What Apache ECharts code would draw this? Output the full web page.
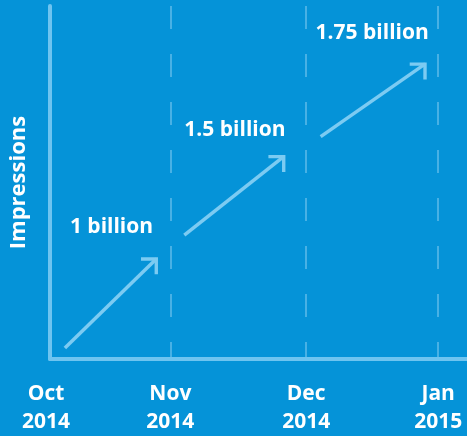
<!DOCTYPE html>
<html>
<head>
<meta charset="utf-8">
<script src="https://cdn.jsdelivr.net/npm/echarts@6/dist/echarts.min.js"></script>
<style>
html,body{margin:0;padding:0;background:#0593d8;}
#c{width:467px;height:436px;}
</style>
</head>
<body>
<div id="c"></div>
<script>
// Month positions along the time axis (as drawn), and their labels
const monthNames = ['Oct', 'Nov', 'Dec', 'Jan'];
const monthYears = ['2014', '2014', '2014', '2015'];
const monthPos = [0, 0.93, 1.98, 3];

// Growth arrows (x in months since Oct 2014, y = relative impressions index 0-100)
const arrowStartX = [0.115, 1.038, 2.092];
const arrowStartY = [3.1, 35.1, 63.0];
const arrowEndX = [0.823, 1.808, 2.9];
const arrowEndY = [28.4, 57.4, 83.6];
const arrowLabels = ['1 billion', '1.5 billion', '1.75 billion'];

const BG = '#0593d8';
const LIGHT = '#6ec4f0';
const ARROW = '#7ccbf2';
const FONT = '"Open Sans", sans-serif';
const labelOffsets = [[-45, -32], [-49, -26], [-53, -31]];
const chevron = 'path://M0,0 L100,0 L100,100 L80,100 L80,20 L0,20 Z';

const arrowSeries = arrowStartX.map(function (sx, i) {
  return {
    type: 'line',
    silent: true,
    data: [
      { value: [sx, arrowStartY[i]], symbol: 'none' },
      { value: [arrowEndX[i], arrowEndY[i]], symbol: chevron, symbolSize: 17, symbolOffset: [-7, 7] }
    ],
    lineStyle: { color: ARROW, width: 3.5, cap: 'butt' },
    itemStyle: { color: ARROW, borderWidth: 0 },
    showSymbol: true,
    animation: false
  };
});

const labelSeries = {
  type: 'scatter',
  silent: true,
  symbolSize: 1,
  itemStyle: { color: 'rgba(0,0,0,0)' },
  data: arrowEndX.map(function (x, i) {
    return {
      value: [x, arrowEndY[i]],
      label: {
        show: true,
        position: 'inside',
        offset: labelOffsets[i],
        formatter: arrowLabels[i],
        color: '#ffffff',
        textBorderWidth: 0,
        opacity: 1,
        fontFamily: FONT,
        fontWeight: 'bold',
        fontSize: 21
      }
    };
  }),
  animation: false
};

const labelText = { color: '#ffffff', fontFamily: FONT, fontWeight: 'bold', fontSize: 21, lineHeight: 28 };

const chart = echarts.init(document.getElementById('c'), null, { renderer: 'canvas' });
chart.setOption({
  backgroundColor: BG,
  animation: false,
  grid: { left: 48, right: 0, top: 6, bottom: 70, containLabel: false },
  xAxis: {
    type: 'value',
    min: 0,
    max: 3.223,
    axisLine: { show: true, onZero: false, lineStyle: { color: LIGHT, width: 4 } },
    axisTick: { show: false, customValues: monthPos },
    splitLine: {
      show: true,
      lineStyle: { color: '#5fbce9', width: 1.5, type: [23, 25] }
    },
    axisLabel: {
      show: true,
      customValues: monthPos,
      margin: 21,
      color: '#ffffff',
      fontFamily: FONT,
      fontWeight: 'bold',
      fontSize: 21,
      lineHeight: 28,
      rich: {
        first: Object.assign({ padding: [0, 8, 0, 0] }, labelText),
        m: labelText
      },
      formatter: function (v) {
        const i = monthPos.indexOf(v);
        if (i < 0) return '';
        const s = i === 0 ? 'first' : 'm';
        return '{' + s + '|' + monthNames[i] + '}\n{' + s + '|' + monthYears[i] + '}';
      }
    }
  },
  yAxis: {
    type: 'value',
    min: 0,
    max: 100,
    name: 'Impressions',
    nameLocation: 'middle',
    nameRotate: 90,
    nameGap: 20,
    nameTextStyle: { color: '#ffffff', fontFamily: FONT, fontWeight: 'bold', fontSize: 22 },
    axisLine: { show: true, onZero: false, lineStyle: { color: LIGHT, width: 4 } },
    axisTick: { show: false },
    axisLabel: { show: false },
    splitLine: { show: false }
  },
  series: arrowSeries.concat([labelSeries])
});
</script>
</body>
</html>
